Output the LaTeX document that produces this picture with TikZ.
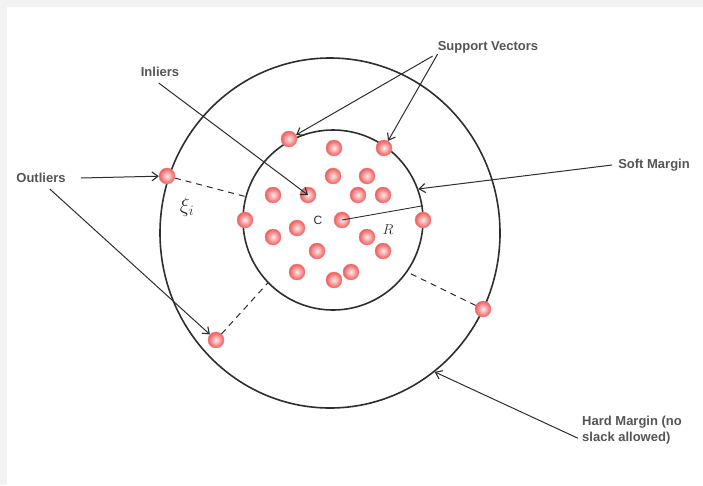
\documentclass[tikz,border=0pt]{standalone}
\usepackage{fontspec}
\setmainfont{Liberation Sans}
\usetikzlibrary{arrows.meta,shapes.geometric}
\definecolor{bgray}{HTML}{F2F2F2}
\definecolor{lblgray}{HTML}{555555}
\definecolor{linegray}{HTML}{2E2E2E}
\definecolor{ptred}{HTML}{F05A5A}
\begin{document}
\begin{tikzpicture}[x=1pt,y=-1pt,
  pt/.style={circle,minimum size=16pt,inner sep=0pt,shading=radial,
    inner color=red!8,outer color=ptred,draw=ptred!80,line width=0.4pt},
  ring/.style={draw=linegray,line width=1.6pt,inner sep=0pt},
  lbl/.style={font=\fontsize{13}{15}\selectfont\bfseries,text=lblgray,inner sep=0pt},
  arr/.style={draw=linegray,line width=1pt,-{Straight Barb[length=6pt,width=9pt,line width=1.1pt]}},
  slack/.style={draw=linegray,line width=1pt,dash pattern=on 6pt off 5pt}]
\useasboundingbox (0,0) rectangle (703,485);
\fill[bgray] (0,0) rectangle (703,485);
\fill[white] (7,7) rectangle (703,485);
% circles
\node[ring,ellipse,minimum width=340pt,minimum height=350pt] (outer) at (330,233) {};
\node[ring,circle,minimum size=180pt] (inner) at (333,220) {};
% inner points
\node[pt] (p1) at (289,139) {};
\node[pt] (p2) at (334,148) {};
\node[pt] (p3) at (384,148) {};
\node[pt] (p4) at (333,176) {};
\node[pt] (p5) at (367,176) {};
\node[pt] (p6) at (273,195) {};
\node[pt] (p7) at (308,195) {};
\node[pt] (p8) at (358,195) {};
\node[pt] (p9) at (383,195) {};
\node[pt] (p10) at (245,220) {};
\node[pt] (pc) at (342,220) {};
\node[pt] (p12) at (423,220) {};
\node[pt] (p13) at (297,228) {};
\node[pt] (p14) at (273,237) {};
\node[pt] (p15) at (367,237) {};
\node[pt] (p16) at (317,251) {};
\node[pt] (p17) at (383,251) {};
\node[pt] (p18) at (297,272) {};
\node[pt] (p19) at (351,272) {};
\node[pt] (p20) at (334,280) {};
% outliers
\node[pt] (o1) at (167,176) {};
\node[pt] (o2) at (216,340) {};
\node[pt] (o3) at (483,309) {};
% slack lines
\draw[slack] (o1) -- (inner.165);
\draw[slack] (o2) -- (inner.224);
\draw[slack] (o3) -- (inner.-35);
% radius
\draw[linegray,line width=0.9pt] (pc.center) -- (inner.9);
\node[font=\fontsize{12}{14}\selectfont,text=linegray] (clbl) at (318,220) {C};
\node[font=\fontsize{15}{17}\selectfont,text=linegray] (rlbl) at (388,230) {$R$};
\node[font=\fontsize{21}{23}\selectfont,text=linegray] (xi) at (187,207) {$\xi_i$};
% labels
\node[lbl] (svl) at (488,47) {Support Vectors};
\node[lbl] (inl) at (160,72) {Inliers};
\node[lbl] (sml) at (654,165) {Soft Margin};
\node[lbl] (outl) at (41,178) {Outliers};
\node[lbl,align=left,anchor=north west,font=\fontsize{13}{16}\selectfont\bfseries] (hml) at (582,416) {Hard Margin (no\\slack allowed)};
% arrows
\draw[arr] ([shift={(-5pt,-3pt)}]svl.south west) -- (p1);
\draw[arr] ([shift={(0pt,-1pt)}]svl.south west) -- (p3);
\draw[arr] ([shift={(18pt,-6pt)}]inl.south west) -- (p7.center);
\draw[arr] ([xshift=-6pt]sml.west) -- (inner.20);
\draw[arr] ([xshift=15pt]outl.east) -- (o1);
\draw[arr] ([shift={(-16pt,-6pt)}]outl.south east) -- (o2);
\draw[arr] ([shift={(-4pt,-8pt)}]hml.west) -- (outer.-53);
\end{tikzpicture}
\end{document}
